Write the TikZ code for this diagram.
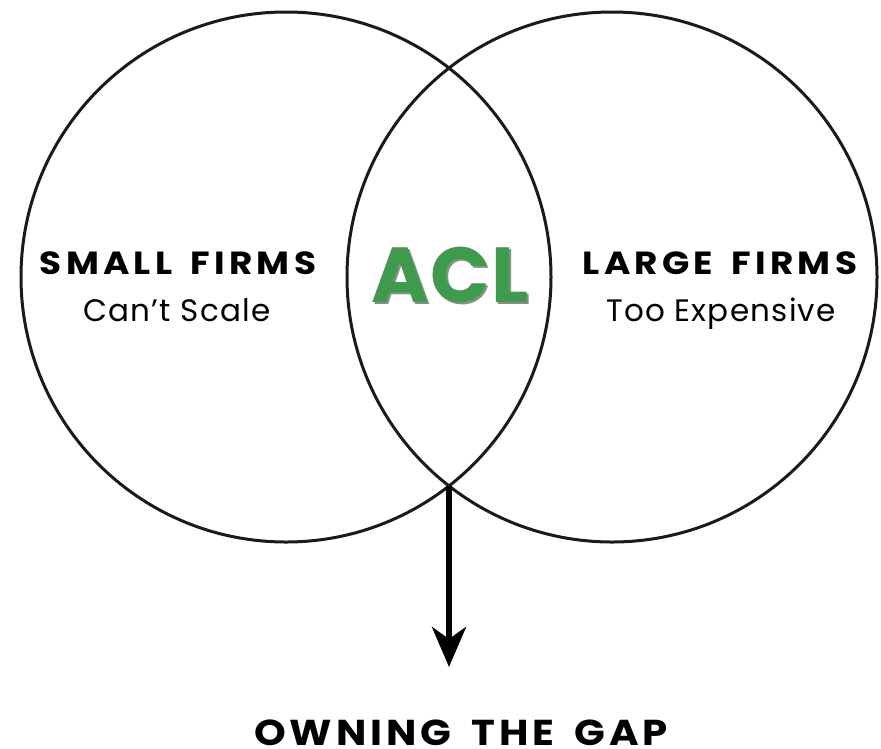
\documentclass[tikz,border=0pt]{standalone}
\usepackage{fontspec}
\setmainfont{Poppins}
\newfontfamily\titlefont[LetterSpace=13,FakeStretch=1.12,WordSpace=1.6]{Poppins}
\newfontfamily\gapfont[LetterSpace=11,FakeStretch=1.12,WordSpace=1.6]{Poppins}
\newfontfamily\subfont[LetterSpace=4]{Poppins}
\newfontfamily\aclfont[LetterSpace=2]{Poppins}
\usetikzlibrary{arrows.meta}
\definecolor{aclgreen}{RGB}{61,155,75}
\definecolor{ink}{RGB}{26,26,26}
\begin{document}
\begin{tikzpicture}[x=1pt,y=-1pt,
  venn/.style={draw=ink,line width=3pt,circle,minimum size=530pt,inner sep=0pt},
  head/.style={font=\titlefont\bfseries\fontsize{32}{33}\selectfont,text=black,anchor=base,inner sep=0pt},
  sub/.style={font=\subfont\fontsize{31}{32}\selectfont,text=black,anchor=base,inner sep=0pt},
  acl/.style={font=\aclfont\bfseries\fontsize{78}{80}\selectfont,anchor=base,inner sep=0pt}]
\useasboundingbox (0,0) rectangle (881,748);
\node[venn] (L) at (286,277) {};
\node[venn] (R) at (612,277) {};
\coordinate (ib) at (449,486);
\coordinate (tip) at (449,667);
\node[head] (sf) at (178,274) {SMALL FIRMS};
\node[sub] (cs) at (177,321) {Can’t Scale};
\node[head] (lf) at (720,274) {LARGE FIRMS};
\node[sub] (te) at (721,321) {Too Expensive};
\node[acl,text=black!45] (aclshadow) at (452,304) {ACL};
\node[acl,text=aclgreen] (acl) at (450,302) {ACL};
\node[head,font=\gapfont\bfseries\fontsize{36}{37}\selectfont] (gap) at (461,745) {OWNING THE GAP};
\draw[line width=6pt,-{Stealth[length=40pt,width=34pt,inset=12pt]}] (ib) -- (tip);
\end{tikzpicture}
\end{document}
